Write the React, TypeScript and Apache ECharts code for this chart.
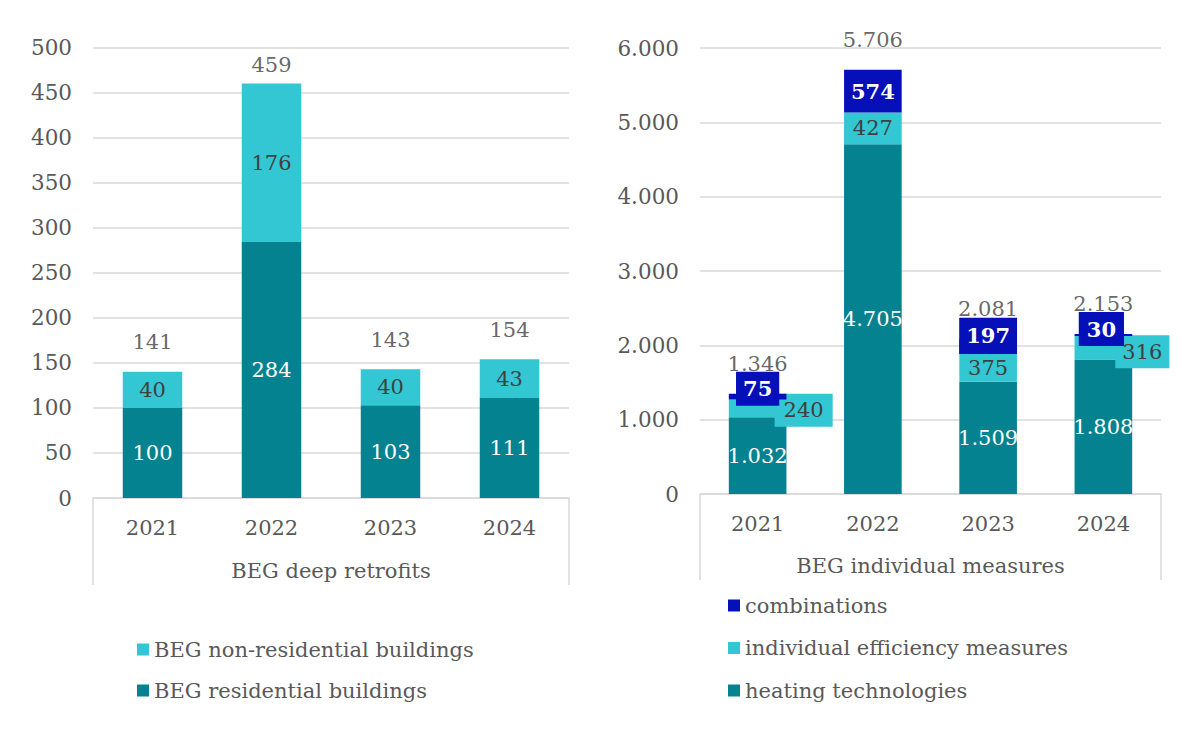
import React, { useEffect, useRef } from "react";
import * as echarts from "echarts";

// ---- data ----
const CATEGORIES = ["2021", "2022", "2023", "2024"];

const DEEP_RESIDENTIAL = [100, 284, 103, 111];
const DEEP_NON_RESIDENTIAL = [40, 176, 40, 43];
const DEEP_TOTAL = [141, 459, 143, 154];

const IND_HEATING = [1032, 4705, 1509, 1808];
const IND_EFFICIENCY = [240, 427, 375, 316];
const IND_COMBINATIONS = [75, 574, 197, 30];
const IND_TOTAL = [1346, 5706, 2081, 2153];

const LEFT_AXIS = { min: 0, max: 500, interval: 50 };
const RIGHT_AXIS = { min: 0, max: 6000, interval: 1000 };

const NAME_RES = "BEG residential buildings";
const NAME_NONRES = "BEG non-residential buildings";
const NAME_HEAT = "heating technologies";
const NAME_EFF = "individual efficiency measures";
const NAME_COMB = "combinations";

// ---- styles ----
const FONT = "'DejaVu Serif', Georgia, serif";
const TEAL = "#04828F";
const CYAN = "#33C6D3";
const BLUE = "#0510B8";
const GRID_C = "#d9d9d9";
const AXIS_TXT = "#595959";
const DARK_TXT = "#404040";

const G0 = { left: 93, top: 47.5, width: 476, height: 450.5 };
const G1 = { left: 700, top: 48, width: 461, height: 446 };

// label placement tweaks (style only, index-aligned)
const EFF_LABEL_STYLE: any[] = [
  { offset: [46, 2], backgroundColor: CYAN, padding: [6, 9, 6, 9] },
  null,
  null,
  { offset: [39, 4], backgroundColor: CYAN, padding: [6, 7, 6, 7] },
];
const COMB_LABEL_STYLE: any[] = [
  { offset: [0, -8], backgroundColor: BLUE, padding: [7, 7, 6, 7] },
  null,
  { offset: [0, -11], backgroundColor: BLUE, padding: [8, 7, 7, 7] },
  { offset: [-2, -6], backgroundColor: BLUE, padding: [7, 8, 6, 8] },
];
const DEEP_TOTAL_DIST = [18, 8, 18, 18];

const fmt = (v: number) =>
  String(Math.round(v)).replace(/\B(?=(\d{3})+(?!\d))/g, ".");

function withLabels(values: number[], styles: any[]) {
  return values.map((v, i) =>
    styles[i] ? { value: v, label: styles[i] } : { value: v }
  );
}

export default function App() {
  const ref = useRef<HTMLDivElement>(null);

  useEffect(() => {
    if (!ref.current) return;
    const chart = echarts.init(ref.current, null, { renderer: "svg" });

    const labelBase = {
      show: true,
      position: "inside",
      fontFamily: FONT,
      fontSize: 21,
      lineHeight: 21,
      formatter: (p: any) => fmt(p.value),
    };

    const xAxisBase = (gridIndex: number, name: string, gap: number) => ({
      type: "category",
      gridIndex,
      data: CATEGORIES,
      name,
      nameLocation: "middle",
      nameGap: gap,
      nameTextStyle: { fontFamily: FONT, fontSize: 21, color: AXIS_TXT },
      axisLine: { show: true, lineStyle: { color: GRID_C, width: 1.5 } },
      axisTick: { show: false },
      axisLabel: {
        fontFamily: FONT,
        fontSize: 21,
        color: AXIS_TXT,
        margin: 19,
      },
    });

    const yAxisBase = (gridIndex: number, ax: any) => ({
      type: "value",
      gridIndex,
      min: ax.min,
      max: ax.max,
      interval: ax.interval,
      axisLine: { show: false },
      axisTick: { show: false },
      splitLine: { lineStyle: { color: GRID_C, width: 1.5 } },
      axisLabel: {
        fontFamily: FONT,
        fontSize: 21.5,
        color: AXIS_TXT,
        margin: 21,
        formatter: (v: number) => fmt(v),
      },
    });

    const boxLine = (x: number, y1: number, y2: number) => ({
      type: "line",
      shape: { x1: x, y1, x2: x, y2 },
      style: { stroke: GRID_C, lineWidth: 1.5 },
      silent: true,
    });

    const b0 = G0.top + G0.height;
    const b1 = G1.top + G1.height;

    const legendText = {
      fontFamily: FONT,
      fontSize: 21,
      lineHeight: 21,
      color: AXIS_TXT,
    };

    const option: any = {
      animation: false,
      backgroundColor: "#ffffff",
      textStyle: { fontFamily: FONT },
      grid: [
        { ...G0, containLabel: false },
        { ...G1, containLabel: false },
      ],
      xAxis: [
        xAxisBase(0, "BEG deep retrofits", 62),
        xAxisBase(1, "BEG individual measures", 61),
      ],
      yAxis: [yAxisBase(0, LEFT_AXIS), yAxisBase(1, RIGHT_AXIS)],
      legend: [
        {
          data: [NAME_NONRES, NAME_RES],
          orient: "vertical",
          left: 132,
          top: 634,
          icon: "rect",
          itemWidth: 12,
          itemHeight: 12,
          itemGap: 20,
          textStyle: legendText,
        },
        {
          data: [NAME_COMB, NAME_EFF, NAME_HEAT],
          orient: "vertical",
          left: 723,
          top: 590,
          icon: "rect",
          itemWidth: 12,
          itemHeight: 12,
          itemGap: 21.5,
          textStyle: legendText,
        },
      ],
      graphic: [
        boxLine(G0.left, b0, 585),
        boxLine(G0.left + G0.width, b0, 585),
        boxLine(G1.left, b1, 580),
        boxLine(G1.left + G1.width, b1, 580),
      ],
      series: [
        {
          name: NAME_RES,
          type: "bar",
          stack: "deep",
          xAxisIndex: 0,
          yAxisIndex: 0,
          barWidth: "50%",
          z: 3,
          itemStyle: { color: TEAL },
          label: { ...labelBase, color: "#ffffff" },
          data: DEEP_RESIDENTIAL,
        },
        {
          name: NAME_NONRES,
          type: "bar",
          stack: "deep",
          xAxisIndex: 0,
          yAxisIndex: 0,
          barWidth: "50%",
          z: 3,
          itemStyle: { color: CYAN },
          label: { ...labelBase, color: DARK_TXT },
          data: DEEP_NON_RESIDENTIAL,
        },
        {
          name: "deep total",
          type: "scatter",
          xAxisIndex: 0,
          yAxisIndex: 0,
          symbolSize: 1,
          z: 2,
          silent: true,
          itemStyle: { color: "rgba(0,0,0,0)" },
          label: {
            show: true,
            position: "top",
            fontFamily: FONT,
            fontSize: 21,
            lineHeight: 21,
            color: DARK_TXT,
            formatter: (p: any) => fmt(p.value),
          },
          data: DEEP_TOTAL.map((v, i) => ({
            value: v,
            label: { distance: DEEP_TOTAL_DIST[i] },
          })),
        },
        {
          name: NAME_HEAT,
          type: "bar",
          stack: "ind",
          xAxisIndex: 1,
          yAxisIndex: 1,
          barWidth: "50%",
          z: 3,
          itemStyle: { color: TEAL },
          label: { ...labelBase, color: "#ffffff" },
          data: IND_HEATING,
        },
        {
          name: NAME_EFF,
          type: "bar",
          stack: "ind",
          xAxisIndex: 1,
          yAxisIndex: 1,
          barWidth: "50%",
          z: 3,
          itemStyle: { color: CYAN },
          label: { ...labelBase, color: DARK_TXT },
          data: withLabels(IND_EFFICIENCY, EFF_LABEL_STYLE),
        },
        {
          name: NAME_COMB,
          type: "bar",
          stack: "ind",
          xAxisIndex: 1,
          yAxisIndex: 1,
          barWidth: "50%",
          z: 4,
          itemStyle: { color: BLUE },
          label: { ...labelBase, color: "#ffffff", fontWeight: "bold" },
          data: withLabels(IND_COMBINATIONS, COMB_LABEL_STYLE),
        },
        {
          name: "ind total",
          type: "scatter",
          xAxisIndex: 1,
          yAxisIndex: 1,
          symbolSize: 1,
          z: 2,
          silent: true,
          itemStyle: { color: "rgba(0,0,0,0)" },
          label: {
            show: true,
            position: "top",
            distance: 19,
            fontFamily: FONT,
            fontSize: 21,
            lineHeight: 21,
            color: DARK_TXT,
            formatter: (p: any) => fmt(p.value),
          },
          data: IND_TOTAL,
        },
      ],
    };

    chart.setOption(option);
    return () => chart.dispose();
  }, []);

  return (
    <div
      ref={ref}
      style={{
        position: "absolute",
        left: 0,
        top: 0,
        width: 1200,
        height: 735,
        background: "#fff",
      }}
    />
  );
}
